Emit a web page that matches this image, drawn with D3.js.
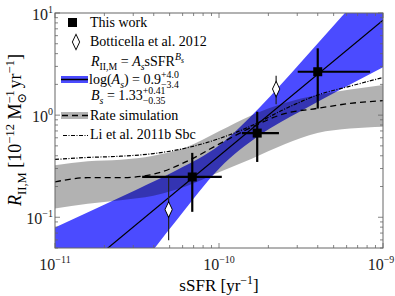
<!DOCTYPE html>
<html>
<head>
<meta charset="utf-8">
<script src="https://cdn.jsdelivr.net/npm/d3@7"></script>
<style>
  body { margin: 0; background: #fff; }
  svg { display: block; font-family: "Liberation Serif", "DejaVu Serif", serif; }
</style>
</head>
<body>
<div id="chart"></div>
<script>
// measured points (this work): sSFR [yr^-1], R [1e-12 Msun^-1 yr^-1]
var work_x = [6.87e-11, 1.71e-10, 4.0e-10],
  work_xlo = [3.40e-11, 1.38e-10, 3.02e-10],
  work_xhi = [1.04e-10, 2.32e-10, 8.34e-10],
  work_y = [0.248, 0.667, 2.66],
  work_ylo = [0.113, 0.348, 1.16],
  work_yhi = [0.427, 1.08, 4.51]

// Botticella et al. 2012
var bott_x = [4.93e-11, 2.23e-10],
  bott_y = [0.119, 1.80],
  bott_ylo = [0.0596, 1.28],
  bott_yhi = [0.258, 2.43]

// power-law fit R = A s SFR^B, log(A)=0.9, B=1.33
var fit_logA = 0.9, fit_B = 1.33

// fit confidence band
var band_x = [1e-11, 1.78e-11, 3.16e-11, 5.62e-11, 1e-10, 1.78e-10, 3.16e-10, 5.62e-10, 1e-9],
  band_lo = [0.00275, 0.00906, 0.0298, 0.0971, 0.2985, 0.641, 1.10, 1.81, 2.94],
  band_hi = [0.0794, 0.1216, 0.187, 0.293, 0.504, 1.20, 3.29, 9.29, 26.4]

// rate simulation (dashed) + grey band, Li et al. 2011b Sbc (dash-dot)
var sim_x = [1e-11, 1.585e-11, 2.512e-11, 3.981e-11, 6.31e-11, 1e-10, 1.585e-10, 2.512e-10, 3.981e-10, 6.31e-10, 1e-9],
  sim_mid = [0.222, 0.244, 0.244, 0.264, 0.350, 0.520, 0.762, 1.035, 1.165, 1.303, 1.387],
  sim_lo = [0.1217, 0.1355, 0.1469, 0.1626, 0.2014, 0.2761, 0.375, 0.520, 0.667, 0.738, 0.771],
  sim_hi = [0.3236, 0.354, 0.366, 0.401, 0.485, 0.697, 1.0, 1.312, 1.570, 1.778, 1.968],
  li_y = [0.368, 0.385, 0.396, 0.420, 0.477, 0.589, 0.789, 1.146, 1.570, 1.923, 2.335]

var x_major = [1e-11, 1e-10, 1e-9],
  x_labels = ["-11", "-10", "-9"],
  y_major = [0.1, 1, 10],
  y_labels = ["-1", "0", "1"]

var width = 395, height = 296,
  m_left = 55, m_right = 383, m_top = 13, m_bottom = 248

var svg = d3.select("#chart").append("svg")
  .attr("width", width).attr("height", height)

var x = d3.scaleLog().domain([1e-11, 1e-9]).range([m_left, m_right]),
  y = d3.scaleLog().domain([0.05, 10]).range([m_bottom, m_top])

svg.append("clipPath").attr("id", "clip")
  .append("rect").attr("x", m_left).attr("y", m_top).attr("width", m_right - m_left).attr("height", m_bottom - m_top)

var plot = svg.append("g").attr("clip-path", "url(#clip)")

var blue = "#4b4bff", grey = "rgba(0,0,0,0.3)"

var band = d3.area().curve(d3.curveMonotoneX)
  .x(function(d){ return x(d[0]) }).y0(function(d){ return y(d[1]) }).y1(function(d){ return y(d[2]) })

plot.append("path")
  .attr("d", band(band_x.map(function(v, i){ return [v, band_lo[i], band_hi[i]] })))
  .attr("fill", blue)

plot.append("path")
  .attr("d", band(sim_x.map(function(v, i){ return [v, sim_lo[i], sim_hi[i]] })))
  .attr("fill", grey)

var line = d3.line().curve(d3.curveMonotoneX)
  .x(function(d){ return x(d[0]) }).y(function(d){ return y(d[1]) })

plot.append("path")
  .attr("d", line(sim_x.map(function(v, i){ return [v, sim_mid[i]] })))
  .attr("fill", "none").attr("stroke", "#000").attr("stroke-width", 1.3).attr("stroke-dasharray", "6,4")

plot.append("path")
  .attr("d", line(sim_x.map(function(v, i){ return [v, li_y[i]] })))
  .attr("fill", "none").attr("stroke", "#000").attr("stroke-width", 1.2).attr("stroke-dasharray", "4,1.5,1,1.5")

var fit_x = x.domain()
plot.append("path")
  .attr("d", d3.line()(fit_x.map(function(v){
    return [x(v), y(Math.pow(10, fit_logA + fit_B * Math.log10(v) + 12))]
  })))
  .attr("stroke", "#000").attr("stroke-width", 1.2)

// Botticella error bars + diamonds
var bott = plot.append("g")
bott_x.forEach(function(v, i){
  bott.append("line").attr("x1", x(v)).attr("x2", x(v))
    .attr("y1", y(bott_ylo[i])).attr("y2", y(bott_yhi[i]))
    .attr("stroke", "#222").attr("stroke-width", 1.2)
  bott.append("path")
    .attr("d", d3.symbol(d3.symbolDiamond, 64)())
    .attr("transform", `translate(${x(v)},${y(bott_y[i])}) scale(0.85,1.05)`)
    .attr("fill", "#fff").attr("stroke", "#000").attr("stroke-width", 1)
})

// this work
var work = plot.append("g")
work_x.forEach(function(v, i){
  work.append("line").attr("x1", x(work_xlo[i])).attr("x2", x(work_xhi[i]))
    .attr("y1", y(work_y[i])).attr("y2", y(work_y[i]))
    .attr("stroke", "#000").attr("stroke-width", 2.2)
  work.append("line").attr("x1", x(v)).attr("x2", x(v))
    .attr("y1", y(work_ylo[i])).attr("y2", y(work_yhi[i]))
    .attr("stroke", "#000").attr("stroke-width", 2.2)
  work.append("rect").attr("x", x(v) - 4.5).attr("y", y(work_y[i]) - 4.5)
    .attr("width", 9).attr("height", 9).attr("fill", "#000")
})

// frame and ticks (inward, on all sides)
var axis_col = "#666"
svg.append("rect").attr("x", m_left).attr("y", m_top).attr("width", m_right - m_left).attr("height", m_bottom - m_top)
  .attr("fill", "none").attr("stroke", axis_col).attr("stroke-width", 1)

var ticks = svg.append("g").attr("stroke", axis_col).attr("stroke-width", 0.8)
x.ticks().forEach(function(t){
  var len = x_major.some(function(m){ return Math.abs(m - t) / m < 1e-6 }) ? 5 : 3
  ticks.append("line").attr("x1", x(t)).attr("x2", x(t)).attr("y1", m_bottom).attr("y2", m_bottom - len)
  ticks.append("line").attr("x1", x(t)).attr("x2", x(t)).attr("y1", m_top).attr("y2", m_top + len)
})
y.ticks().forEach(function(t){
  var len = y_major.some(function(m){ return Math.abs(m - t) / m < 1e-6 }) ? 5 : 3
  ticks.append("line").attr("y1", y(t)).attr("y2", y(t)).attr("x1", m_left).attr("x2", m_left + len)
  ticks.append("line").attr("y1", y(t)).attr("y2", y(t)).attr("x1", m_right).attr("x2", m_right - len)
})

// tick labels 10^n
x_major.forEach(function(t, i){
  var tx = svg.append("text").attr("x", Math.min(x(t), 381)).attr("y", 270).attr("text-anchor", "middle")
    .attr("font-size", 16).attr("fill", "#222")
  tx.append("tspan").text("10")
  tx.append("tspan").attr("dy", -7).attr("font-size", 10).text(x_labels[i].replace("-", "\u2212"))
})
y_major.forEach(function(t, i){
  var ty = svg.append("text").attr("x", 53).attr("y", y(t) + 7).attr("text-anchor", "end")
    .attr("font-size", 16).attr("fill", "#222")
  ty.append("tspan").text("10")
  ty.append("tspan").attr("dy", -7).attr("font-size", 10).text(y_labels[i].replace("-", "\u2212"))
})

// rich text helper: parts = [text, kind]; kinds: n, i, sub, isub, sup, isup, iss (script of script); "back" stacks under previous
function rich(sel, px, py, parts, size, anchor) {
  var t = sel.append("text").attr("x", px).attr("y", py).attr("font-size", size)
    .attr("text-anchor", anchor || "start").attr("fill", "#000")
  var cur = 0, prev = null
  parts.forEach(function(p){
    var kind = p[1], off = 0, fs = size
    if (kind.indexOf("sub") >= 0) { off = size * 0.28; fs = size * 0.7 }
    if (kind.indexOf("sup") >= 0) { off = -size * 0.4; fs = size * 0.7 }
    if (kind.indexOf("ss") >= 0) { off = -size * 0.25; fs = size * 0.55 }
    var ts = t.append("tspan").text(p[0]).attr("dy", off - cur).attr("font-size", fs)
    if (kind.charAt(0) === "i") ts.attr("font-style", "italic")
    if (p[2] === "back" && prev) ts.attr("dx", -prev.node().getComputedTextLength())
    cur = off
    prev = ts
  })
  return t
}

// legend
var leg = svg.append("g")
leg.append("rect").attr("x", 68).attr("y", 18).attr("width", 9).attr("height", 9).attr("fill", "#000")
rich(leg, 90, 27, [["This work", "n"]], 14)
leg.append("path").attr("d", d3.symbol(d3.symbolDiamond, 64)())
  .attr("transform", "translate(76,42) scale(0.85,1.05)")
  .attr("fill", "#fff").attr("stroke", "#000").attr("stroke-width", 1)
rich(leg, 90, 46, [["Botticella et al. 2012", "n"]], 14)

rich(leg, 91, 66, [["R", "i"], ["II,M", "sub"], [" = ", "n"], ["A", "i"], ["s", "isub"], ["sSFR", "n"], ["B", "isup"], ["s", "iss"]], 14)
leg.append("rect").attr("x", 61).attr("y", 76).attr("width", 27).attr("height", 7).attr("fill", blue)
leg.append("line").attr("x1", 61).attr("x2", 88).attr("y1", 79.5).attr("y2", 79.5).attr("stroke", "#000").attr("stroke-width", 1.5)
rich(leg, 89, 84, [["log(", "n"], ["A", "i"], ["s", "isub"], [") = 0.9", "n"], ["+4.0", "sup"], ["\u22123.4", "sub", "back"]], 14)
rich(leg, 91, 100, [["B", "i"], ["s", "isub"], [" = 1.33", "n"], ["+0.41", "sup"], ["\u22120.35", "sub", "back"]], 14)

leg.append("rect").attr("x", 61).attr("y", 112).attr("width", 27).attr("height", 7).attr("fill", "#b3b3b3")
leg.append("line").attr("x1", 62).attr("x2", 88).attr("y1", 115.5).attr("y2", 115.5)
  .attr("stroke", "#000").attr("stroke-width", 1.3).attr("stroke-dasharray", "6,4")
rich(leg, 90, 120, [["Rate simulation", "n"]], 14)
leg.append("line").attr("x1", 63).attr("x2", 88).attr("y1", 135.5).attr("y2", 135.5)
  .attr("stroke", "#000").attr("stroke-width", 1.2).attr("stroke-dasharray", "4,1.5,1,1.5")
rich(leg, 90, 139, [["Li et al. 2011b Sbc", "n"]], 14)

// axis labels
rich(svg, 219, 291, [["sSFR [yr", "n"], ["\u22121", "sup"], ["]", "n"]], 17, "middle")
var yl = svg.append("g").attr("transform", "translate(21,130) rotate(-90)")
rich(yl, 0, 0, [["R", "i"], ["II,M", "sub"], [" [10", "n"], ["\u221212", "sup"], [" M", "n"], ["\u22121", "sup"], ["\u2299", "sub", "back"], [" yr", "n"], ["\u22121", "sup"], ["]", "n"]], 18, "middle")
</script>
</body>
</html>
